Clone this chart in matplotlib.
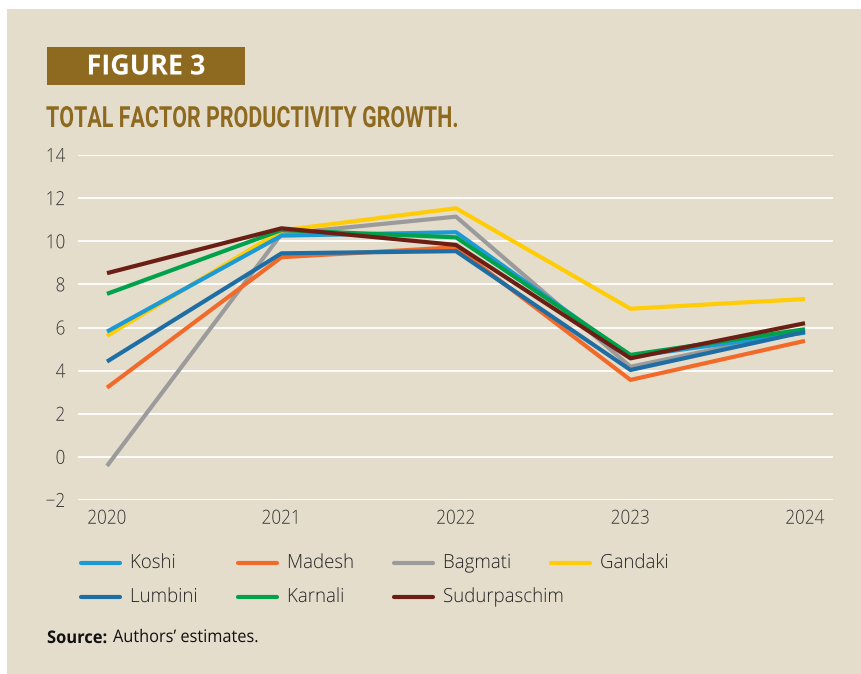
import matplotlib
matplotlib.use("Agg")
import matplotlib.pyplot as plt
from matplotlib.patches import Rectangle
from matplotlib.lines import Line2D
from matplotlib.transforms import Affine2D
from matplotlib import patheffects

years = [2020, 2021, 2022, 2023, 2024]
koshi = [5.81, 10.26, 10.42, 4.65, 5.76]
madesh = [3.21, 9.26, 9.72, 3.57, 5.38]
bagmati = [-0.42, 10.34, 11.14, 4.18, 5.87]
gandaki = [5.61, 10.50, 11.53, 6.87, 7.32]
lumbini = [4.42, 9.44, 9.54, 4.03, 5.80]
karnali = [7.56, 10.52, 10.18, 4.73, 5.92]
sudurpaschim = [8.52, 10.60, 9.83, 4.57, 6.20]

names = ["Koshi", "Madesh", "Bagmati", "Gandaki", "Lumbini", "Karnali", "Sudurpaschim"]
series = [koshi, madesh, bagmati, gandaki, lumbini, karnali, sudurpaschim]
colors = ["#1C9AD6", "#F26A2A", "#9B9B9B", "#FFCC05", "#1F6EA3", "#00A14B", "#6B1E14"]
draw_order = [2, 3, 0, 5, 1, 4, 6]
yticks = [-2, 0, 2, 4, 6, 8, 10, 12, 14]

BG = "#E5DDCC"
BROWN = "#8D6A1F"


class Condense(patheffects.AbstractPathEffect):
    """Horizontally compress glyphs about the left, centre or right of the text."""

    def __init__(self, sx, anchor="left"):
        super().__init__()
        self.sx = sx
        self.anchor = anchor

    def draw_path(self, renderer, gc, tpath, affine, rgbFace=None):
        ext = tpath.get_extents()
        if self.anchor == "center":
            px = (ext.x0 + ext.x1) / 2
        elif self.anchor == "right":
            px = ext.x1
        else:
            px = 0
        tr = Affine2D().translate(-px, 0).scale(self.sx, 1).translate(px, 0)
        renderer.draw_path(gc, tpath, tr + affine, rgbFace)


W, H = 861, 674
fig = plt.figure(figsize=(W / 100, H / 100), dpi=100)
fig.patch.set_facecolor("white")


def fx(px):
    return px / W


def fy(py):
    return 1 - py / H


fig.patches.append(Rectangle((fx(7), 0), 1 - fx(7), fy(9), transform=fig.transFigure,
                             facecolor=BG, edgecolor="none", zorder=-5))
fig.patches.append(Rectangle((fx(47), fy(85)), fx(245) - fx(47), fy(47) - fy(85),
                             transform=fig.transFigure, facecolor=BROWN, edgecolor="none", zorder=-4))
fig.text(fx(146), fy(67), "FIGURE 3", color="white", fontsize=20, fontweight="bold",
         family=["Open Sans", "DejaVu Sans"], ha="center", va="center",
         path_effects=[Condense(0.97, "center")])
fig.text(fx(46), fy(119), "TOTAL FACTOR PRODUCTIVITY GROWTH.", color=BROWN, fontsize=21,
         fontweight="bold", family=["Roboto", "DejaVu Sans"], ha="left", va="center",
         path_effects=[Condense(0.735)])

ax = fig.add_axes([fx(78), fy(500), fx(833) - fx(78), fy(155) - fy(500)])
ax.set_zorder(2)
ax.set_facecolor("none")
for i in draw_order:
    ax.plot(years, series[i], color=colors[i], lw=3.0, solid_capstyle="butt", zorder=3)
ax.set_xlim(2020 - 29 / 174.5, 2024 + 28 / 174.5)
ax.set_ylim(-2, 14)
ax.set_yticks(yticks)
ax.set_yticklabels([("\u2212" + str(-v)) if v < 0 else str(v) for v in yticks])
ax.set_xticks(years)
ax.set_xticklabels([str(y) for y in years])
ax.grid(axis="y", color="white", lw=1.3)
ax.set_axisbelow(True)
for s in ax.spines.values():
    s.set_visible(False)
ax.tick_params(length=0, labelsize=14, labelcolor="#333333")
ax.tick_params(axis="y", pad=9)
ax.tick_params(axis="x", pad=7)
for lab in ax.get_xticklabels():
    lab.set_family(["Open Sans", "DejaVu Sans"])
    lab.set_fontweight("light")
    lab.set_path_effects([Condense(0.88, "center")])
for lab in ax.get_yticklabels():
    lab.set_family(["Open Sans", "DejaVu Sans"])
    lab.set_fontweight("light")
    lab.set_path_effects([Condense(0.88, "right")])

col_x = [80, 237, 393, 550]
row_y = [563, 597]
for k, name in enumerate(names):
    r, c = divmod(k, 4)
    x0 = col_x[c]
    y0 = row_y[r]
    fig.add_artist(Line2D([fx(x0 + 1), fx(x0 + 40)], [fy(y0), fy(y0)], transform=fig.transFigure,
                          color=colors[k], lw=3, solid_capstyle="round"))
    fig.text(fx(x0 + 50), fy(y0), name, fontsize=14, color="#222222", fontweight="light",
             family=["Open Sans", "DejaVu Sans"], ha="left", va="center",
             path_effects=[Condense(0.96)])

fig.text(fx(47), fy(638), "Source:", fontsize=12.5, fontweight="bold", color="#111111",
         family=["Open Sans", "DejaVu Sans"], ha="left", va="center",
         path_effects=[Condense(0.95)])
fig.text(fx(113), fy(638), "Authors\u2019 estimates.", fontsize=12.5, color="#111111",
         family=["Open Sans", "DejaVu Sans"], ha="left", va="center",
         path_effects=[Condense(0.94)])

fig.savefig("out.png", dpi=100, facecolor=fig.get_facecolor())
